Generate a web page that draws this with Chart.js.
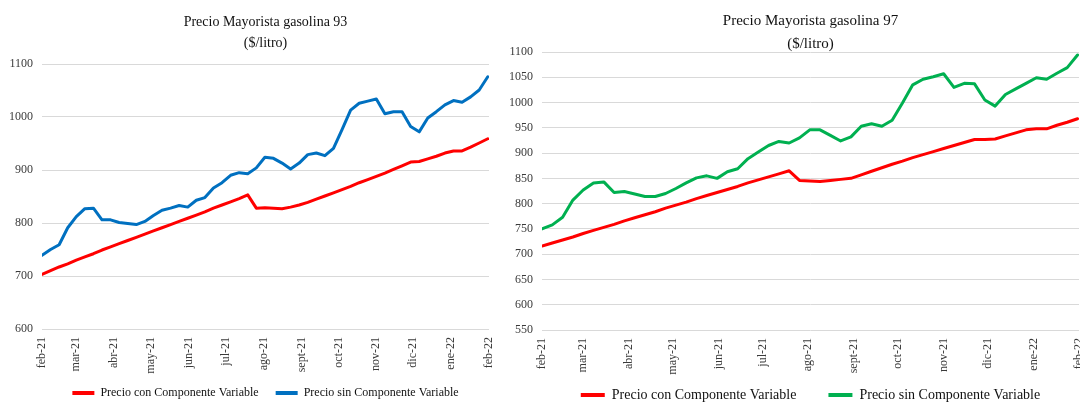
<!DOCTYPE html>
<html>
<head>
<meta charset="utf-8">
<script src="https://cdn.jsdelivr.net/npm/chart.js@4.4.1/dist/chart.umd.min.js"></script>
<style>
  html, body { margin: 0; padding: 0; background: #fff; width: 1080px; height: 402px; overflow: hidden; }
  #c93 { position: absolute; left: 0; top: 0; }
  #c97 { position: absolute; left: 500px; top: 0; }
</style>
</head>
<body>
<canvas id="c93" width="500" height="402"></canvas>
<canvas id="c97" width="600" height="402"></canvas>
<script>
// ---------- data ----------
const monthLabels = ['feb-21','mar-21','abr-21','may-21','jun-21','jul-21','ago-21','sept-21','oct-21','nov-21','dic-21','ene-22','feb-22'];
const seriesNames = ['Precio con Componente Variable', 'Precio sin Componente Variable'];

// weekly observations, Feb 2021 - Feb 2022 (53 weeks)
const g93Con = [703,710,717,723,730,736,742,749,755,761,767,773,779,785,791,797,803,809,815,821,828,834,840,846,853,828,829,828,827,830,834,839,845,851,857,863,869,876,882,888,894,901,908,915,916,921,926,932,936,936,943,951,959];
const g93Sin = [739,750,759,791,812,827,828,806,806,801,799,797,803,814,824,828,833,830,843,848,866,876,890,895,893,904,924,922,913,902,913,929,932,927,941,976,1013,1026,1030,1034,1006,1010,1010,982,972,998,1010,1023,1031,1028,1038,1051,1076];
const g97Con = [716,722,728,734,741,747,753,759,766,772,778,784,791,797,803,810,816,822,828,834,841,847,853,859,865,846,845,844,846,848,850,857,864,871,878,884,891,897,903,909,915,921,927,927,928,934,940,946,948,948,955,961,968];
const g97Sin = [750,758,773,807,827,841,843,822,824,819,814,814,820,830,841,851,855,850,863,869,889,902,915,923,920,930,946,946,935,924,932,953,958,953,965,999,1035,1046,1051,1057,1030,1038,1037,1005,993,1016,1027,1038,1049,1046,1058,1069,1094];

// ---------- axis helpers ----------
const DAY = 86400000;
const axisStart = Date.UTC(2021, 1, 1);
const monthTickDays = monthLabels.map((_, k) => (Date.UTC(2021, 1 + k, 1) - axisStart) / DAY);
const weekDays = g93Con.map((_, i) => i * 7);
const toPoints = arr => arr.map((v, i) => ({ x: weekDays[i], y: v }));

Chart.defaults.font.family = "'Liberation Serif', 'Times New Roman', serif";

// places the bottom legend row at a given vertical centre
const legendPlace = {
  id: 'legendPlace',
  afterLayout(chart, args, opts) {
    const lg = chart.legend;
    if (!lg || !opts.centerY) return;
    const P = lg.options.labels.padding;
    lg.top = opts.centerY - opts.fontSize / 2 - P;
    lg.bottom = chart.height;
    lg.height = lg.bottom - lg.top;
  }
};

function makeChart(id, cfg) {
  const ds = (label, data, color) => ({
    label, data: toPoints(data), borderColor: color, backgroundColor: color,
    borderWidth: 3, pointRadius: 0, tension: 0, borderJoinStyle: 'round', borderCapStyle: 'round'
  });
  return new Chart(document.getElementById(id), {
    type: 'line',
    data: { datasets: [ds(seriesNames[0], cfg.con, '#FF0000'), ds(seriesNames[1], cfg.sin, cfg.sinColor)] },
    plugins: [legendPlace],
    options: {
      responsive: false, animation: false, devicePixelRatio: 1,
      layout: { padding: cfg.pad },
      scales: {
        x: {
          type: 'linear', min: 0, max: monthTickDays[monthTickDays.length - 1],
          grid: { display: false, drawTicks: false },
          border: { display: false },
          afterBuildTicks: s => { s.ticks = monthTickDays.map(v => ({ value: v })); },
          afterFit: s => { s.height = cfg.xAxisH; s.paddingLeft = 0; s.paddingRight = 0; },
          ticks: {
            autoSkip: false, maxRotation: 90, minRotation: 90, padding: 8,
            color: '#3a3a3a', font: { size: 12 },
            callback: (v, i) => monthLabels[i]
          }
        },
        y: {
          min: cfg.yMin, max: cfg.yMax,
          ticks: { stepSize: cfg.yStep, padding: 9, color: '#3a3a3a', font: { size: 12 }, callback: v => String(v) },
          grid: { color: '#d9d9d9', lineWidth: 1, drawTicks: false },
          border: { display: false }
        }
      },
      plugins: {
        title: {
          display: true, text: cfg.title, fullSize: false, color: '#111',
          font: { size: cfg.titleSize, weight: 'normal', lineHeight: 1.5 },
          padding: cfg.titlePad
        },
        legend: {
          position: 'bottom', fullSize: false, maxHeight: cfg.legendH,
          labels: {
            boxWidth: cfg.boxW, boxHeight: 4, padding: cfg.legendPad, color: '#111',
            font: { size: cfg.legendSize },
            generateLabels: chart => Chart.defaults.plugins.legend.labels.generateLabels(chart)
              .map(l => Object.assign(l, { lineWidth: 0, fillStyle: l.strokeStyle }))
          }
        },
        legendPlace: { centerY: cfg.legendY, fontSize: cfg.legendSize },
        tooltip: { enabled: false }
      }
    }
  });
}

makeChart('c93', {
  con: g93Con, sin: g93Sin, sinColor: '#0070C0',
  yMin: 600, yMax: 1100, yStep: 100,
  title: ['Precio Mayorista gasolina 93', '($/litro)'], titleSize: 14, titlePad: { top: 0, bottom: 10 },
  pad: { left: 0, right: 11, top: 12, bottom: 0 },
  xAxisH: 46, legendH: 27, legendPad: 17, legendSize: 12, legendY: 393, boxW: 22
});

makeChart('c97', {
  con: g97Con, sin: g97Sin, sinColor: '#00B050',
  yMin: 550, yMax: 1100, yStep: 50,
  title: ['Precio Mayorista gasolina 97', '($/litro)'], titleSize: 15, titlePad: { top: 0, bottom: -3 },
  pad: { left: 0, right: 21, top: 10, bottom: 0 },
  xAxisH: 46, legendH: 26, legendPad: 32, legendSize: 14, legendY: 395, boxW: 24
});
</script>
</body>
</html>
